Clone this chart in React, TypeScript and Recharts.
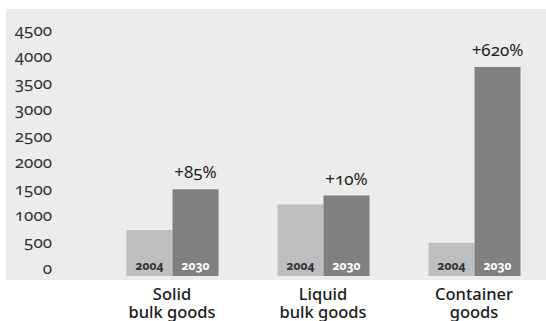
import React from "react";
import { BarChart, Bar, XAxis, YAxis, LabelList } from "recharts";

const categories = ["Solid\nbulk goods", "Liquid\nbulk goods", "Container\ngoods"];
const values2004 = [870, 1350, 630];
const values2030 = [1640, 1520, 3950];
const growthLabels = ["+85%", "+10%", "+620%"];
const yTicks = [0, 500, 1000, 1500, 2000, 2500, 3000, 3500, 4000, 4500];

const FONT = "'Noto Sans', 'Open Sans', sans-serif";
const NUMS: React.CSSProperties = { fontFeatureSettings: '"onum"' };

const data = categories.map((name, i) => ({
  name,
  y2004: values2004[i],
  y2030: values2030[i],
  growth: growthLabels[i],
}));

const YTick = ({ y, payload }: any) => (
  <text x={52} y={y} dy={-2} textAnchor="end" fontSize={17} fill="#333" fontFamily={FONT} style={NUMS}>
    {payload.value}
  </text>
);

// two-line category names, one text element per line
const XTick = ({ x, y, payload }: any) => {
  const lines = String(payload.value).split("\n");
  return (
    <g>
      {lines.map((l, i) => (
        <text
          key={i}
          x={x}
          y={y + 16 + i * 17.5}
          textAnchor="middle"
          fontSize={16.5}
          fontWeight={500}
          fill="#1a1a1a"
          fontFamily={FONT}
        >
          {l}
        </text>
      ))}
    </g>
  );
};

const yearLabel = (year: string, color: string) => (props: any) => {
  const { x, y, width, height } = props;
  return (
    <text
      x={x + width / 2}
      y={y + height - 6}
      textAnchor="middle"
      fontSize={12}
      fontWeight="bold"
      fill={color}
      fontFamily={FONT}
      style={NUMS}
    >
      {year}
    </text>
  );
};

const GrowthLabel = (props: any) => {
  const { x, y, width, value } = props;
  return (
    <text x={x + width / 2} y={y - 11} textAnchor="middle" fontSize={17} fill="#222" fontFamily={FONT} style={NUMS}>
      {value}
    </text>
  );
};

export default function App() {
  return (
    <div style={{ position: "fixed", left: 0, top: 0, width: 546, height: 321, overflow: "hidden", background: "#fff" }}>
      <div style={{ position: "absolute", left: 6, top: 9, width: 540, height: 271, background: "#ececec" }} />
      <div style={{ position: "absolute", left: 0, top: 0 }}>
        <BarChart
          width={552}
          height={321}
          data={data}
          margin={{ top: 38, right: 2.5, left: 0, bottom: 5 }}
          barSize={46}
          barGap={0}
        >
          <YAxis
            width={96.5}
            domain={[0, 4500]}
            ticks={yTicks}
            axisLine={false}
            tickLine={false}
            tick={<YTick />}
            interval={0}
          />
          <XAxis
            dataKey="name"
            height={40}
            axisLine={false}
            tickLine={false}
            tick={<XTick />}
            interval={0}
          />
          <Bar dataKey="y2004" fill="#bdbec0" isAnimationActive={false}>
            <LabelList dataKey="y2004" content={yearLabel("2004", "#333")} />
          </Bar>
          <Bar dataKey="y2030" fill="#808080" isAnimationActive={false}>
            <LabelList dataKey="y2030" content={yearLabel("2030", "#fff")} />
            <LabelList dataKey="growth" content={<GrowthLabel />} />
          </Bar>
        </BarChart>
      </div>
    </div>
  );
}
